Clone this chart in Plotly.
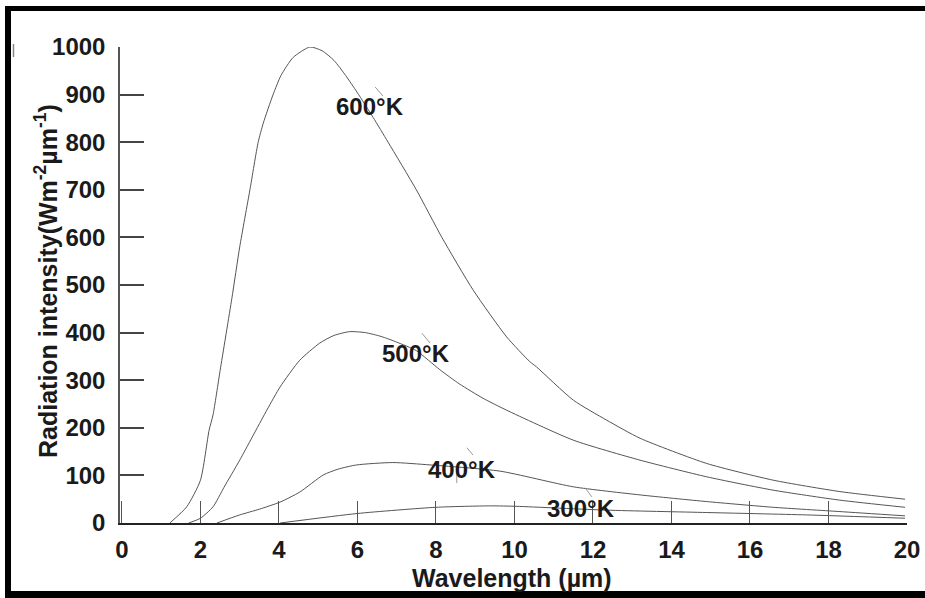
import plotly.graph_objects as go

# ---- data ----
x_600 = [1.22, 1.65, 2.0, 2.22, 2.32, 2.5, 2.8, 3.0, 3.26, 3.47, 3.6, 3.85, 4.05, 4.36, 4.79, 5.1,
         5.4, 5.7, 5.99, 6.4, 6.78, 7.5, 8.15, 8.95, 9.8, 10.39, 10.56, 11.5, 12.35, 13.2, 14.9,
         16.59, 18.29, 19.95]
y_600 = [0, 34, 90, 195, 227, 320, 472, 580, 700, 800, 840, 900, 940, 978, 1000, 992,
         972, 940, 905, 852, 800, 700, 600, 489, 391, 339, 328, 258, 216, 178, 125,
         90, 66, 50]

x_500 = [1.7, 2.0, 2.32, 2.6, 3.0, 3.69, 4.03, 4.53, 5.04, 5.4, 5.8, 6.2, 6.6, 7.0, 7.5, 8.1,
         8.6, 9.2, 9.8, 11.5, 13.2, 14.9, 16.59, 18.29, 19.95]
y_500 = [0, 10, 34, 75, 132, 237, 286, 342, 378, 394, 402, 400, 392, 380, 362, 322,
         292, 262, 237, 174, 132, 97, 69, 48, 33]

x_400 = [2.42, 3.0, 3.5, 4.03, 4.53, 5.13, 5.5, 5.98, 6.9, 7.85, 9.63, 11.5, 13.2, 14.9, 16.59,
         18.29, 19.95]
y_400 = [0, 17, 29, 44, 65, 101, 113, 122, 127, 122, 109, 76, 59, 45, 33,
         24, 15]

x_300 = [4.03, 6.0, 8.0, 9.38, 10.06, 12.35, 14.9, 17.44, 19.95]
y_300 = [0, 20, 33, 36, 35, 27, 22, 17, 10]

series = [("600°K", x_600, y_600), ("500°K", x_500, y_500),
          ("400°K", x_400, y_400), ("300°K", x_300, y_300)]

# label anchor positions (data coords)
label_x = [6.32, 7.49, 8.66, 11.69]
label_y = [876, 357, 113, 31]

# thin leader strokes next to the labels: (x0, y0, x1, y1) in data units
leader_lines = [(6.45, 916, 6.65, 897), (7.64, 399, 7.85, 378), (8.79, 158, 8.94, 143),
                (11.8, 74, 11.97, 55), (8.53, 111, 8.53, 84)]

x_ticks = [0, 2, 4, 6, 8, 10, 12, 14, 16, 18, 20]
y_ticks = [0, 100, 200, 300, 400, 500, 600, 700, 800, 900, 1000]

# ---- layout geometry (pixels) ----
W, H = 925, 598
L, R, T, B = 120, 907, 47, 523


def px(p):
    return (p - L) / (R - L)


def py(p):
    return (B - p) / (B - T)


FONT = "Liberation Sans, Arial, sans-serif"
INK = "#1a1a1a"

fig = go.Figure()
for name, xs, ys in series:
    fig.add_trace(go.Scatter(x=xs, y=ys, mode="lines", name=name,
                             line=dict(color="#555555", width=1, shape="spline", smoothing=0.6),
                             showlegend=False, hoverinfo="skip"))

annotations = []
for (name, _, _), lx, ly in zip(series, label_x, label_y):
    annotations.append(dict(x=lx, y=ly, xref="x", yref="y", text=name, showarrow=False,
                            xanchor="center", yanchor="middle",
                            font=dict(family=FONT, size=24, color=INK, weight="bold")))

annotations.append(dict(x=px(512), y=py(578), xref="paper", yref="paper",
                        text="Wavelength (µm)", showarrow=False,
                        xanchor="center", yanchor="middle",
                        font=dict(family=FONT, size=25, color=INK, weight="bold")))
annotations.append(dict(x=px(46), y=py(281), xref="paper", yref="paper", textangle=-90,
                        text="Radiation intensity(Wm<sup>-2</sup>µm<sup>-1</sup>)", showarrow=False,
                        xanchor="center", yanchor="middle",
                        font=dict(family=FONT, size=25, color=INK, weight="bold")))

shapes = [
    dict(type="rect", xref="paper", yref="paper", x0=px(5), x1=px(11), y0=py(6), y1=py(598),
         fillcolor="black", line=dict(width=0), layer="above"),
    dict(type="rect", xref="paper", yref="paper", x0=px(5), x1=px(925), y0=py(6), y1=py(11),
         fillcolor="black", line=dict(width=0), layer="above"),
    dict(type="rect", xref="paper", yref="paper", x0=px(5), x1=px(925), y0=py(591), y1=py(598),
         fillcolor="black", line=dict(width=0), layer="above"),
    dict(type="line", xref="paper", yref="paper", x0=px(13.5), x1=px(13.5), y0=py(44), y1=py(57),
         line=dict(color="#888888", width=1.5)),
]
for x0, y0, x1, y1 in leader_lines:
    shapes.append(dict(type="line", xref="x", yref="y", x0=x0, y0=y0, x1=x1, y1=y1,
                       line=dict(color="#999999", width=1)))

fig.update_layout(
    width=W, height=H,
    margin=dict(l=L, r=W - R, t=T, b=H - B, pad=0, autoexpand=False),
    paper_bgcolor="white", plot_bgcolor="white",
    annotations=annotations, shapes=shapes,
    xaxis=dict(range=[-0.05, 20], tickvals=x_ticks, ticks="inside", ticklen=22,
               tickcolor="#555555", tickwidth=1, showline=True, linecolor="#222222", linewidth=1.5,
               showgrid=False, zeroline=False, ticklabelstandoff=4, automargin=False,
               tickfont=dict(family=FONT, size=24, color=INK, weight="bold")),
    yaxis=dict(range=[0, 1000], tickvals=y_ticks, ticks="inside", ticklen=24,
               tickcolor="#444444", tickwidth=1.5, showline=True, linecolor="#555555", linewidth=1.5,
               showgrid=False, zeroline=False, ticklabelstandoff=8, automargin=False,
               tickfont=dict(family=FONT, size=24, color=INK, weight="bold")),
)

fig.write_html("out.html", config={"displayModeBar": False},
               post_script="document.body.style.margin='0';document.body.style.overflow='hidden';")
